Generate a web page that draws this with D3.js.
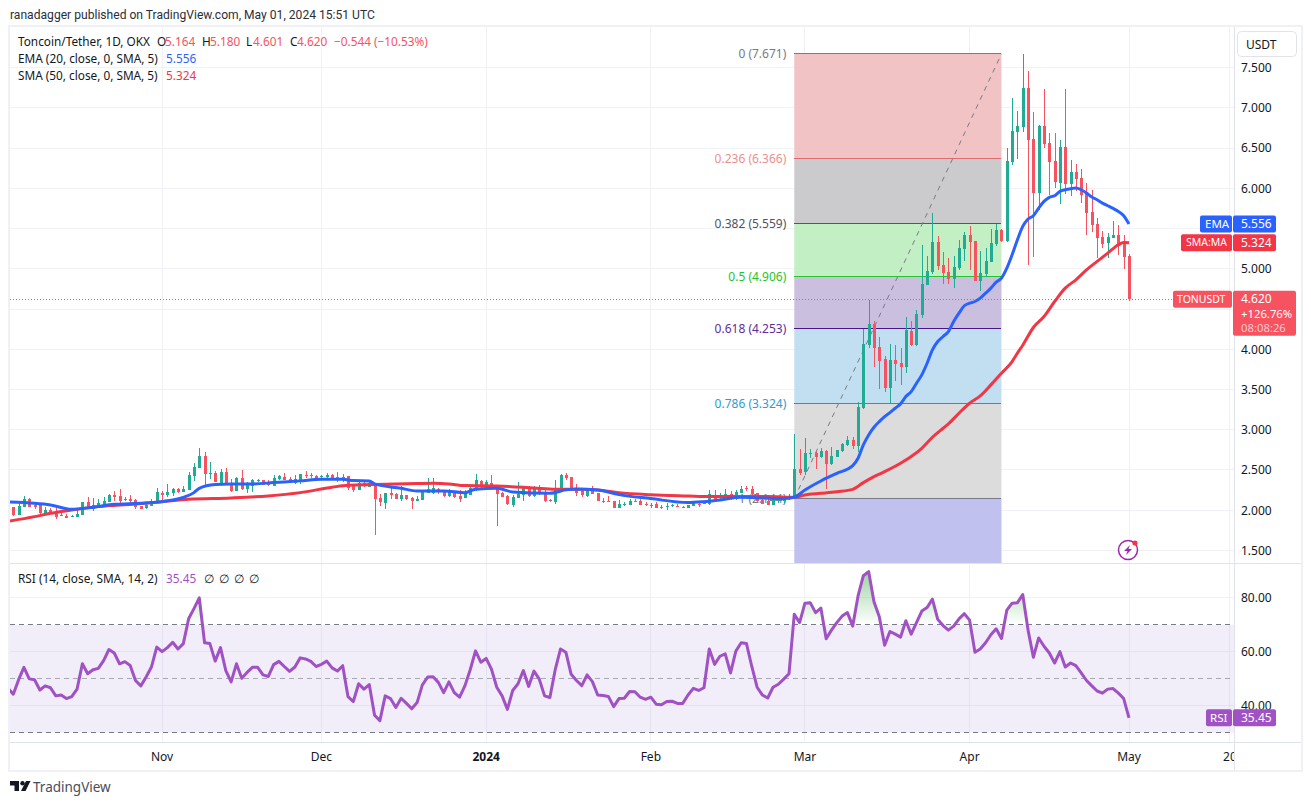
<!DOCTYPE html>
<html>
<head>
<meta charset="utf-8">
<title>TONUSDT</title>
<script src="https://cdn.jsdelivr.net/npm/d3@7"></script>
<style>
  html, body { margin: 0; padding: 0; background: #fff; }
  svg { display: block; }
  text { font-family: "Noto Sans", sans-serif; font-size: 12px; fill: #131722; }
</style>
</head>
<body>
<div id="chart"></div>
<script>
// daily candles, day 0 = 4 Oct 2023, day 210 = 1 May 2024
var opens = [
  2.044,1.941,2.044,2.140,2.061,2.061,1.953,2.003,1.978,1.936,
  1.932,1.920,1.920,1.941,2.102,2.011,2.061,2.061,2.106,2.189,
  2.177,2.131,2.140,2.127,2.053,2.032,2.057,2.111,2.214,2.189,
  2.214,2.264,2.231,2.252,2.426,2.525,2.674,2.455,2.459,2.343,
  2.475,2.334,2.239,2.401,2.268,2.301,2.368,2.376,2.334,2.301,
  2.384,2.413,2.384,2.334,2.351,2.438,2.438,2.426,2.417,2.413,
  2.438,2.409,2.401,2.426,2.301,2.252,2.334,2.293,2.326,2.152,
  2.090,2.214,2.202,2.140,2.189,2.152,2.115,2.127,2.218,2.218,
  2.264,2.239,2.177,2.223,2.177,2.152,2.189,2.252,2.368,2.310,
  2.339,2.301,2.214,2.177,2.065,2.152,2.189,2.289,2.177,2.276,
  2.227,2.127,2.102,2.264,2.434,2.413,2.276,2.239,2.177,2.272,
  2.214,2.115,2.115,2.111,2.028,2.069,2.065,2.115,2.115,2.082,
  2.065,2.077,2.036,2.048,2.048,2.053,2.036,2.028,2.053,2.077,
  2.077,2.073,2.189,2.152,2.177,2.202,2.144,2.214,2.272,2.264,
  2.214,2.127,2.119,2.065,2.111,2.115,2.136,2.140,2.512,2.479,
  2.699,2.707,2.657,2.736,2.574,2.666,2.736,2.811,2.873,2.798,
  3.267,4.055,4.316,4.030,3.880,3.524,3.868,3.831,3.785,4.229,
  4.055,4.428,4.801,4.962,5.336,5.050,4.962,4.875,5.012,5.249,
  5.423,5.348,4.851,4.938,5.087,5.311,5.485,5.348,6.331,6.704,
  6.766,7.251,6.617,5.945,6.778,6.567,6.343,6.069,6.517,6.057,
  6.206,6.132,5.932,5.709,5.559,5.398,5.323,5.385,5.423,5.319,
  5.164
];
var highs = [
  2.044,2.106,2.177,2.152,2.094,2.077,2.036,2.032,2.023,1.995,
  1.953,1.945,2.019,2.102,2.160,2.156,2.140,2.165,2.206,2.239,
  2.264,2.169,2.189,2.140,2.053,2.086,2.136,2.276,2.239,2.326,
  2.272,2.276,2.301,2.475,2.583,2.774,2.724,2.600,2.488,2.513,
  2.525,2.388,2.413,2.500,2.351,2.388,2.393,2.376,2.376,2.438,
  2.438,2.463,2.413,2.438,2.451,2.488,2.463,2.442,2.438,2.459,
  2.451,2.475,2.451,2.426,2.326,2.351,2.359,2.351,2.326,2.202,
  2.214,2.276,2.210,2.301,2.189,2.165,2.177,2.227,2.401,2.401,
  2.276,2.252,2.260,2.243,2.252,2.252,2.301,2.451,2.376,2.376,
  2.438,2.301,2.227,2.189,2.189,2.351,2.301,2.301,2.301,2.310,
  2.252,2.140,2.376,2.451,2.459,2.413,2.326,2.264,2.272,2.301,
  2.214,2.152,2.177,2.111,2.127,2.106,2.136,2.140,2.136,2.102,
  2.090,2.102,2.065,2.090,2.077,2.073,2.053,2.069,2.102,2.090,
  2.119,2.252,2.252,2.210,2.260,2.239,2.252,2.301,2.301,2.301,
  2.214,2.160,2.148,2.181,2.165,2.177,2.202,2.948,2.761,2.894,
  2.761,2.740,2.769,2.749,2.782,2.749,2.831,2.923,2.906,3.346,
  4.249,4.606,4.357,4.158,3.918,4.067,4.055,4.021,4.403,4.357,
  4.490,5.298,5.153,5.692,5.410,5.211,5.137,5.161,5.360,5.452,
  5.535,5.348,5.224,5.257,5.497,5.559,5.497,6.505,7.127,6.965,
  7.671,7.462,6.952,6.791,7.239,6.691,6.691,6.604,7.239,6.355,
  6.306,6.243,6.069,5.982,5.634,5.472,5.447,5.597,5.547,5.423,
  5.180
];
var lows = [
  1.928,1.941,2.044,2.044,2.011,1.941,1.941,1.953,1.891,1.932,
  1.903,1.920,1.920,1.941,2.011,1.995,2.044,2.053,2.106,2.115,
  2.077,2.111,2.057,2.015,2.015,2.015,2.053,2.106,2.119,2.160,
  2.177,2.218,2.231,2.252,2.368,2.525,2.318,2.388,2.351,2.343,
  2.334,2.227,2.239,2.252,2.214,2.231,2.351,2.314,2.301,2.301,
  2.376,2.376,2.334,2.326,2.326,2.401,2.401,2.376,2.401,2.401,
  2.397,2.351,2.351,2.252,2.227,2.252,2.293,2.285,1.692,2.053,
  2.015,2.144,2.140,2.115,2.127,2.015,2.115,2.127,2.210,2.202,
  2.202,2.169,2.160,2.156,2.106,2.152,2.189,2.243,2.276,2.301,
  2.268,1.804,2.160,2.061,2.044,2.152,2.119,2.160,2.165,2.194,
  2.102,2.098,2.077,2.260,2.376,2.252,2.177,2.160,2.169,2.202,
  2.115,2.090,2.102,2.028,2.028,2.053,2.065,2.106,2.065,2.053,
  2.032,2.028,2.019,2.003,2.044,2.040,2.028,2.028,2.053,2.044,
  2.077,2.065,2.144,2.140,2.144,2.127,2.127,2.210,2.239,2.189,
  2.102,2.077,2.061,2.065,2.090,2.086,2.127,2.140,2.438,2.438,
  2.645,2.508,2.645,2.268,2.562,2.657,2.728,2.798,2.765,2.728,
  3.258,4.013,3.785,3.507,3.474,3.321,3.607,3.557,3.710,4.042,
  4.034,4.382,4.801,4.938,4.987,4.813,4.813,4.763,4.979,5.091,
  4.987,4.851,4.726,4.892,5.087,5.286,5.336,5.327,6.293,6.368,
  6.695,5.049,5.149,5.734,6.505,5.920,6.007,5.808,5.932,5.908,
  5.970,5.821,5.423,5.460,5.137,5.261,5.137,5.385,5.174,5.000,
  4.601
];
var closes = [
  1.941,2.053,2.140,2.044,2.036,1.961,2.003,1.970,1.920,1.945,
  1.907,1.932,1.953,2.102,2.032,2.061,2.086,2.115,2.189,2.165,
  2.111,2.144,2.115,2.044,2.015,2.061,2.119,2.227,2.189,2.227,
  2.264,2.227,2.264,2.438,2.538,2.674,2.451,2.463,2.351,2.475,
  2.334,2.239,2.401,2.264,2.334,2.376,2.372,2.318,2.318,2.401,
  2.426,2.376,2.351,2.384,2.451,2.434,2.430,2.401,2.426,2.434,
  2.405,2.397,2.409,2.281,2.252,2.339,2.301,2.334,2.140,2.102,
  2.214,2.189,2.144,2.189,2.140,2.115,2.140,2.227,2.260,2.272,
  2.227,2.177,2.239,2.165,2.136,2.227,2.276,2.376,2.293,2.355,
  2.293,2.202,2.169,2.077,2.165,2.202,2.285,2.177,2.276,2.214,
  2.115,2.111,2.276,2.438,2.401,2.264,2.214,2.185,2.272,2.202,
  2.115,2.106,2.106,2.028,2.077,2.082,2.115,2.111,2.065,2.069,
  2.069,2.028,2.028,2.057,2.061,2.048,2.044,2.061,2.090,2.065,
  2.086,2.202,2.144,2.189,2.202,2.136,2.227,2.268,2.264,2.198,
  2.111,2.077,2.065,2.127,2.127,2.144,2.177,2.513,2.458,2.707,
  2.707,2.666,2.736,2.574,2.674,2.749,2.823,2.873,2.798,3.279,
  4.067,4.316,4.021,3.855,3.524,3.868,3.818,3.785,4.233,4.055,
  4.440,4.813,4.975,5.336,5.037,4.950,4.875,5.025,5.261,5.423,
  5.336,4.851,4.950,5.099,5.323,5.485,5.348,6.343,6.716,6.778,
  7.251,6.604,5.945,6.778,6.554,6.331,6.082,6.517,6.057,6.206,
  6.119,5.920,5.696,5.547,5.385,5.311,5.398,5.423,5.286,5.149,
  4.620
];

// EMA 20 and SMA 50 at these days
var emaDays = [-1,4,7,11,15,19,24,28,32,34,35,38,41,45,49,54,58,62,64,67,68,73,76,81,85,87,91,94,101,104,106,110,114,120,127,130,133,137,141,145,147,149,152,155,158,159,160,161,162,163,164,165,166,167,168,169,170,171,172,173,174,175,176,177,178,179,180,181,182,183,184,185,186,187,188,189,190,191,192,193,194,195,196,197,198,199,200,201,202,203,204,205,206,207,208,209,210];
var emaValues = [2.102,2.086,2.065,2.011,2.036,2.073,2.086,2.106,2.160,2.218,2.272,2.318,2.326,2.326,2.343,2.364,2.384,2.384,2.368,2.364,2.326,2.272,2.239,2.239,2.218,2.260,2.272,2.227,2.210,2.252,2.264,2.252,2.193,2.144,2.094,2.106,2.127,2.160,2.152,2.144,2.160,2.251,2.363,2.458,2.554,2.645,2.811,2.935,3.030,3.101,3.163,3.213,3.267,3.321,3.412,3.474,3.578,3.681,3.826,3.992,4.096,4.158,4.220,4.345,4.448,4.540,4.573,4.593,4.635,4.697,4.759,4.834,4.884,5.008,5.174,5.360,5.526,5.618,5.659,5.754,5.837,5.887,5.908,5.962,5.982,5.995,6.003,5.982,5.941,5.891,5.858,5.816,5.783,5.750,5.713,5.659,5.556];
var smaDays = [-1,4,7,11,16,23,28,33,41,48,54,60,63,68,76,79,82,85,91,98,102,106,110,114,120,127,131,136,142,147,149,152,155,158,160,162,164,167,169,171,173,175,176,178,180,182,184,186,188,189,190,192,194,196,198,200,202,204,206,208,209,210];
var smaValues = [1.862,1.920,1.961,2.003,2.044,2.077,2.106,2.136,2.152,2.177,2.218,2.285,2.310,2.318,2.330,2.334,2.326,2.305,2.301,2.276,2.260,2.260,2.252,2.218,2.193,2.177,2.169,2.169,2.169,2.160,2.189,2.209,2.230,2.259,2.342,2.417,2.479,2.583,2.666,2.769,2.906,3.018,3.072,3.205,3.329,3.420,3.557,3.702,3.847,3.951,4.050,4.270,4.407,4.593,4.759,4.863,4.987,5.091,5.195,5.298,5.327,5.324];

// RSI 14, one value per day, the first one is day -1 at the pane edge
var rsiValues = [
  46.4,
  44.2,49.6,54.2,49.9,49.6,45.8,47.3,46.6,43.6,43.9,
  42.6,43.3,46.1,55.5,51.8,53.3,53.8,56.7,60.8,59.5,
  55.5,56.3,54.9,49.3,47.3,50.6,54.3,61.7,60.0,61.5,
  63.5,61.0,63.0,72.2,76.0,80.0,63.3,63.0,56.5,61.5,
  53.0,48.8,55.5,50.1,52.3,54.2,54.2,51.4,50.8,55.2,
  56.4,54.5,52.7,54.3,57.7,57.3,56.4,54.5,55.3,56.5,
  54.0,52.8,54.8,43.3,41.5,48.1,46.1,47.8,36.4,34.4,
  43.6,42.6,39.3,42.7,40.8,38.8,41.1,47.7,50.6,50.7,
  48.6,44.8,48.8,44.8,43.1,47.3,53.3,60.3,56.1,57.5,
  53.5,46.8,43.6,38.6,45.6,48.1,53.0,47.1,52.8,49.8,
  43.6,43.0,53.3,61.0,59.8,51.6,49.3,47.4,51.4,48.9,
  43.9,43.7,43.4,39.6,42.6,42.7,45.2,45.1,43.1,42.3,
  43.1,40.5,40.3,41.5,41.6,40.8,40.8,43.9,46.4,45.6,
  46.6,61.0,55.3,58.3,59.2,52.1,60.2,63.3,63.0,54.5,
  46.8,43.9,42.8,46.8,47.9,49.8,51.8,73.9,70.8,78.0,
  78.2,74.5,76.2,64.8,68.0,70.8,73.2,74.5,69.5,80.7,
  88.2,89.7,78.5,73.0,62.4,67.5,66.5,65.4,71.5,66.5,
  70.8,75.1,76.4,79.5,72.0,69.7,68.0,69.5,72.2,74.1,
  71.7,59.8,61.0,63.3,66.3,68.5,64.9,75.4,78.0,78.2,
  81.2,68.0,57.9,65.1,62.0,59.5,55.8,60.0,54.3,55.8,
  54.8,52.1,49.3,47.3,45.4,44.6,46.1,46.3,44.6,42.6,
  35.45
];

// fibonacci retracement drawn from 28 Feb to 8 Apr
var fibRatios = [0, 0.236, 0.382, 0.5, 0.618, 0.786, 1];
var fibPrices = [7.671, 6.366, 5.559, 4.906, 4.253, 3.324, 2.144];
var fibStartDay = 147, fibEndDay = 186;

var priceGrid = [7.5, 7, 6.5, 6, 5.5, 5, 4.5, 4, 3.5, 3, 2.5, 2, 1.5];
// 5.500 and 4.500 sit under the price tags in the picture
var priceTicks = [7.5, 7, 6.5, 6, 5, 4, 3.5, 3, 2.5, 2, 1.5];
var rsiTicks = [80, 60, 40];
var rsiLevels = [70, 50, 30];
var timeTickDays = [28, 58, 89, 120, 149, 180, 210, 229];
var timeTickLabels = ["Nov", "Dec", "2024", "Feb", "Mar", "Apr", "May", "20"];

var lastEma = 5.556, lastSma = 5.324, lastClose = 4.62, lastRsi = 35.45;

var upColor = "#22ab94", downColor = "#f7525f", emaColor = "#2962ff", smaColor = "#f23645", rsiColor = "#a052c4";
var gridColor = "#f0f1f5", borderColor = "#e0e3eb";
var fibLineColors = ["#787b86", "#e06a6f", "#555862", "#27c42b", "#4a148c", "#2196c9", "#787b86"];
var fibBandColors = ["#f2c3c4", "#cbcbce", "#c3efc5", "#cbbfdf", "#c1dff0", "#dcdcdc", "#c0c1ee"];
var fibTextColors = ["#787b86", "#ec8f8f", "#50535e", "#27c42b", "#5e2d9c", "#2f9bd0", "#787b86"];

var width = 1311, height = 805;
var paneLeft = 10, axisX = 1234, frameRight = 1301;
var mainTop = 27, mainBottom = 563, rsiBottom = 742, frameBottom = 770;

var svg = d3.select("#chart").append("svg")
  .attr("width", width)
  .attr("height", height);

var defs = svg.append("defs");
defs.append("clipPath").attr("id", "mainClip").append("rect")
  .attr("x", paneLeft).attr("y", mainTop).attr("width", axisX - paneLeft).attr("height", mainBottom - mainTop);
defs.append("clipPath").attr("id", "rsiClip").append("rect")
  .attr("x", paneLeft).attr("y", mainBottom).attr("width", axisX - paneLeft).attr("height", rsiBottom - mainBottom);
defs.append("clipPath").attr("id", "timeClip").append("rect")
  .attr("x", paneLeft).attr("y", rsiBottom).attr("width", axisX - paneLeft).attr("height", frameBottom - rsiBottom);

// scales
var x = d3.scaleLinear().domain([0, 210]).range([13.3, 1129]);
var y = d3.scaleLinear().domain([1.5, 7.5]).range([550.4, 67.6]);
var yRsi = d3.scaleLinear().domain([30, 80]).range([732.5, 597.8]);

// grid
var grid = svg.append("g").attr("stroke", gridColor).attr("shape-rendering", "crispEdges");
grid.selectAll(".pg").data(priceGrid).enter().append("line")
  .attr("x1", paneLeft).attr("x2", axisX)
  .attr("y1", function (d) { return y(d); }).attr("y2", function (d) { return y(d); });
grid.selectAll(".rg").data(rsiTicks).enter().append("line")
  .attr("x1", paneLeft).attr("x2", axisX)
  .attr("y1", function (d) { return yRsi(d); }).attr("y2", function (d) { return yRsi(d); });
grid.selectAll(".tg").data(timeTickDays).enter().append("line")
  .attr("y1", mainTop).attr("y2", rsiBottom)
  .attr("x1", function (d) { return x(d); }).attr("x2", function (d) { return x(d); });

// fib bands, lines and labels
var fib = svg.append("g").attr("clip-path", "url(#mainClip)");
var fibBandEdges = fibPrices.concat([y.invert(mainBottom)]);
fib.selectAll("rect").data(fibBandColors).enter().append("rect")
  .attr("x", x(fibStartDay)).attr("width", x(fibEndDay) - x(fibStartDay))
  .attr("y", function (d, i) { return y(fibBandEdges[i]); })
  .attr("height", function (d, i) { return y(fibBandEdges[i + 1]) - y(fibBandEdges[i]); })
  .attr("fill", function (d) { return d; });
fib.selectAll("line.level").data(fibPrices).enter().append("line").attr("class", "level")
  .attr("x1", x(fibStartDay)).attr("x2", x(fibEndDay))
  .attr("y1", function (d) { return y(d); }).attr("y2", function (d) { return y(d); })
  .attr("stroke", function (d, i) { return fibLineColors[i]; })
  .attr("shape-rendering", "crispEdges");
fib.selectAll("text").data(fibPrices).enter().append("text")
  .attr("x", x(fibStartDay) - 8)
  .attr("y", function (d) { return y(d); })
  .attr("dy", "0.35em")
  .attr("text-anchor", "end")
  .style("fill", function (d, i) { return fibTextColors[i]; })
  .text(function (d, i) { return fibRatios[i] + " (" + d.toFixed(3) + ")"; });
fib.append("line")
  .attr("x1", x(fibStartDay)).attr("y1", y(fibPrices[6]))
  .attr("x2", x(fibEndDay)).attr("y2", y(fibPrices[0]))
  .attr("stroke", "#787b86").attr("stroke-dasharray", "5,5");

// last price line
svg.append("line")
  .attr("x1", paneLeft).attr("x2", axisX)
  .attr("y1", y(lastClose)).attr("y2", y(lastClose))
  .attr("stroke", downColor).attr("stroke-dasharray", "1,2")
  .attr("shape-rendering", "crispEdges");

// candles
var main = svg.append("g").attr("clip-path", "url(#mainClip)");
var candles = main.selectAll("g.candle").data(closes).enter().append("g").attr("class", "candle")
  .attr("fill", function (d, i) { return d >= opens[i] ? upColor : downColor; })
  .attr("shape-rendering", "crispEdges");
candles.append("rect")
  .attr("x", function (d, i) { return Math.round(x(i)) - 0.5; })
  .attr("width", 1)
  .attr("y", function (d, i) { return y(highs[i]); })
  .attr("height", function (d, i) { return y(lows[i]) - y(highs[i]); });
candles.append("rect")
  .attr("x", function (d, i) { return Math.round(x(i)) - 1.5; })
  .attr("width", 3)
  .attr("y", function (d, i) { return y(Math.max(opens[i], d)); })
  .attr("height", function (d, i) { return Math.max(1, Math.abs(y(opens[i]) - y(d))); });

// moving averages
var maLine = d3.line()
  .x(function (d) { return x(d[0]); })
  .y(function (d) { return y(d[1]); })
  .curve(d3.curveMonotoneX);
main.append("path")
  .attr("d", maLine(d3.zip(smaDays, smaValues)))
  .attr("fill", "none").attr("stroke", smaColor).attr("stroke-width", 3);
main.append("path")
  .attr("d", maLine(d3.zip(emaDays, emaValues)))
  .attr("fill", "none").attr("stroke", emaColor).attr("stroke-width", 3);

// RSI pane
var rsiPane = svg.append("g").attr("clip-path", "url(#rsiClip)");
rsiPane.append("rect")
  .attr("x", paneLeft).attr("width", axisX - paneLeft)
  .attr("y", yRsi(70)).attr("height", yRsi(30) - yRsi(70))
  .attr("fill", "#7e57c2").attr("fill-opacity", 0.1);

var overbought = defs.append("linearGradient").attr("id", "obFill")
  .attr("gradientUnits", "userSpaceOnUse")
  .attr("x1", 0).attr("x2", 0).attr("y1", yRsi(90)).attr("y2", yRsi(70));
overbought.append("stop").attr("offset", 0).attr("stop-color", "#4caf50").attr("stop-opacity", 0.55);
overbought.append("stop").attr("offset", 1).attr("stop-color", "#4caf50").attr("stop-opacity", 0);
defs.append("clipPath").attr("id", "obClip").append("rect")
  .attr("x", paneLeft).attr("y", mainBottom).attr("width", axisX - paneLeft).attr("height", yRsi(70) - mainBottom);
rsiPane.append("g").attr("clip-path", "url(#obClip)").append("path")
  .attr("d", d3.area()
    .x(function (d, i) { return x(i - 1); })
    .y0(yRsi(70))
    .y1(function (d) { return yRsi(d); })(rsiValues))
  .attr("fill", "url(#obFill)");

rsiPane.selectAll("line.lev").data(rsiLevels).enter().append("line").attr("class", "lev")
  .attr("x1", paneLeft).attr("x2", axisX)
  .attr("y1", function (d) { return yRsi(d); }).attr("y2", function (d) { return yRsi(d); })
  .attr("stroke", "#787b86").attr("stroke-opacity", function (d) { return d === 50 ? 0.6 : 1; })
  .attr("stroke-dasharray", "5,4")
  .attr("shape-rendering", "crispEdges");

rsiPane.append("path")
  .attr("d", d3.line()
    .x(function (d, i) { return x(i - 1); })
    .y(function (d) { return yRsi(d); })(rsiValues))
  .attr("fill", "none").attr("stroke", rsiColor).attr("stroke-width", 3).attr("stroke-linejoin", "round");

// frame and separators
svg.append("rect")
  .attr("x", paneLeft - 1).attr("y", mainTop - 1)
  .attr("width", frameRight - paneLeft + 2).attr("height", frameBottom - mainTop + 2)
  .attr("fill", "none").attr("stroke", "#eff1f7").attr("stroke-width", 2);
var seps = svg.append("g").attr("stroke", borderColor).attr("shape-rendering", "crispEdges");
seps.append("line").attr("x1", paneLeft).attr("x2", frameRight).attr("y1", mainBottom).attr("y2", mainBottom);
seps.append("line").attr("x1", paneLeft).attr("x2", frameRight).attr("y1", rsiBottom).attr("y2", rsiBottom);
seps.append("line").attr("x1", axisX).attr("x2", axisX).attr("y1", mainTop).attr("y2", frameBottom);

// axes
var priceAxis = svg.append("g")
  .attr("transform", "translate(" + axisX + ",0)")
  .call(d3.axisRight(y).tickValues(priceTicks).tickFormat(d3.format(".3f")).tickSize(0).tickPadding(7));
var rsiAxis = svg.append("g")
  .attr("transform", "translate(" + axisX + ",0)")
  .call(d3.axisRight(yRsi).tickValues(rsiTicks).tickFormat(d3.format(".2f")).tickSize(0).tickPadding(7));
priceAxis.select("path").remove();
rsiAxis.select("path").remove();
svg.selectAll(".tick text").style("font-family", "\"Noto Sans\", sans-serif").style("font-size", "12px");

var timeAxis = svg.append("g").attr("clip-path", "url(#timeClip)").selectAll("text")
  .data(timeTickDays).enter().append("text")
  .attr("x", function (d) { return x(d); })
  .attr("y", 761)
  .attr("text-anchor", "middle")
  .style("font-weight", function (d, i) { return timeTickLabels[i] === "2024" ? 700 : 400; })
  .text(function (d, i) { return timeTickLabels[i]; });

// header and legends
function label(px, py, str, color, size, family) {
  return svg.append("text").attr("x", px).attr("y", py)
    .style("fill", color || "#131722").style("font-size", (size || 11.8) + "px")
    .style("font-family", family || "\"Noto Sans\", sans-serif").text(str);
}
label(10, 19, "ranadagger published on TradingView.com, May 01, 2024 15:51 UTC", "#2a2e39", 12.1, "Roboto, sans-serif");
label(18, 46, "Toncoin/Tether, 1D, OKX");
label(157, 46, "O"); label(165, 46, "5.164", downColor);
label(202, 46, "H"); label(210, 46, "5.180", downColor);
label(246, 46, "L"); label(253, 46, "4.601", downColor);
label(290, 46, "C"); label(297, 46, "4.620", downColor);
label(334, 46, "\u22120.544 (\u221210.53%)", downColor);
label(18, 63, "EMA (20, close, 0, SMA, 5)");
label(166, 63, lastEma.toFixed(3), emaColor);
label(18, 80, "SMA (50, close, 0, SMA, 5)");
label(166, 80, lastSma.toFixed(3), smaColor);
label(18, 583, "RSI (14, close, SMA, 14, 2)");
label(166, 583, lastRsi.toFixed(2), rsiColor);
[204, 219, 234, 249].forEach(function (px) { label(px, 583, "\u2205"); });

// USDT button
svg.append("rect").attr("x", 1237.5).attr("y", 31.5).attr("width", 59).attr("height", 25).attr("rx", 4)
  .attr("fill", "#fff").attr("stroke", borderColor);
label(1246, 49, "USDT", "#131722", 12);

// price tags on the axis
function tag(left, right, py, h, color, str, anchorX, size) {
  svg.append("rect").attr("x", left).attr("y", py - h / 2).attr("width", right - left).attr("height", h).attr("rx", 2).attr("fill", color);
  svg.append("text").attr("x", anchorX).attr("y", py).attr("dy", "0.35em")
    .style("fill", "#fff").style("font-size", (size || 12) + "px").text(str);
}
tag(1200, 1232, y(lastEma), 17, emaColor, "EMA", 1205, 11.5);
tag(1233, 1276, y(lastEma), 17, emaColor, lastEma.toFixed(3), 1241);
tag(1181, 1232, y(lastSma), 17, smaColor, "SMA:MA", 1186, 10.5);
tag(1233, 1276, y(lastSma), 17, smaColor, lastSma.toFixed(3), 1241);
tag(1173, 1232, y(lastClose), 17, downColor, "TONUSDT", 1177, 10.5);

svg.append("rect").attr("x", 1233).attr("y", y(lastClose) - 8.5).attr("width", 63).attr("height", 45).attr("rx", 2).attr("fill", downColor);
label(1241, y(lastClose) + 4, lastClose.toFixed(3), "#fff", 12);
label(1241, y(lastClose) + 18.5, "+126.76%", "#fff", 11.3);
label(1241, y(lastClose) + 33, "08:08:26", "#fff", 11.3).style("fill-opacity", 0.7);

tag(1206, 1232, yRsi(lastRsi), 17, rsiColor, "RSI", 1210, 11.5);
tag(1233, 1276, yRsi(lastRsi), 17, rsiColor, lastRsi.toFixed(2), 1241);

// lightning badge
var badge = svg.append("g").attr("transform", "translate(1128,550)");
badge.append("circle").attr("r", 9.5).attr("fill", "#fff").attr("stroke", "#9c27b0").attr("stroke-width", 1.5);
badge.append("path").attr("d", "M2,-5 L-4,1 L-0.5,1 L-2,5 L4,-1 L0.5,-1 Z").attr("fill", "#9c27b0");
badge.append("circle").attr("cx", 7).attr("cy", -7).attr("r", 2.6).attr("fill", "#f23645");

// TradingView logo
var logo = svg.append("g").attr("transform", "translate(10,781)").attr("fill", "#131722");
logo.append("path").attr("d", "M0,0 H9 V10 H4.5 V4.5 H0 Z");
logo.append("circle").attr("cx", 12.5).attr("cy", 2.2).attr("r", 2.2);
logo.append("path").attr("d", "M16,0 H20.5 L15.5,10 H11 Z");
label(33, 792, "TradingView", "#4a4e59", 13.5);
</script>
</body>
</html>
